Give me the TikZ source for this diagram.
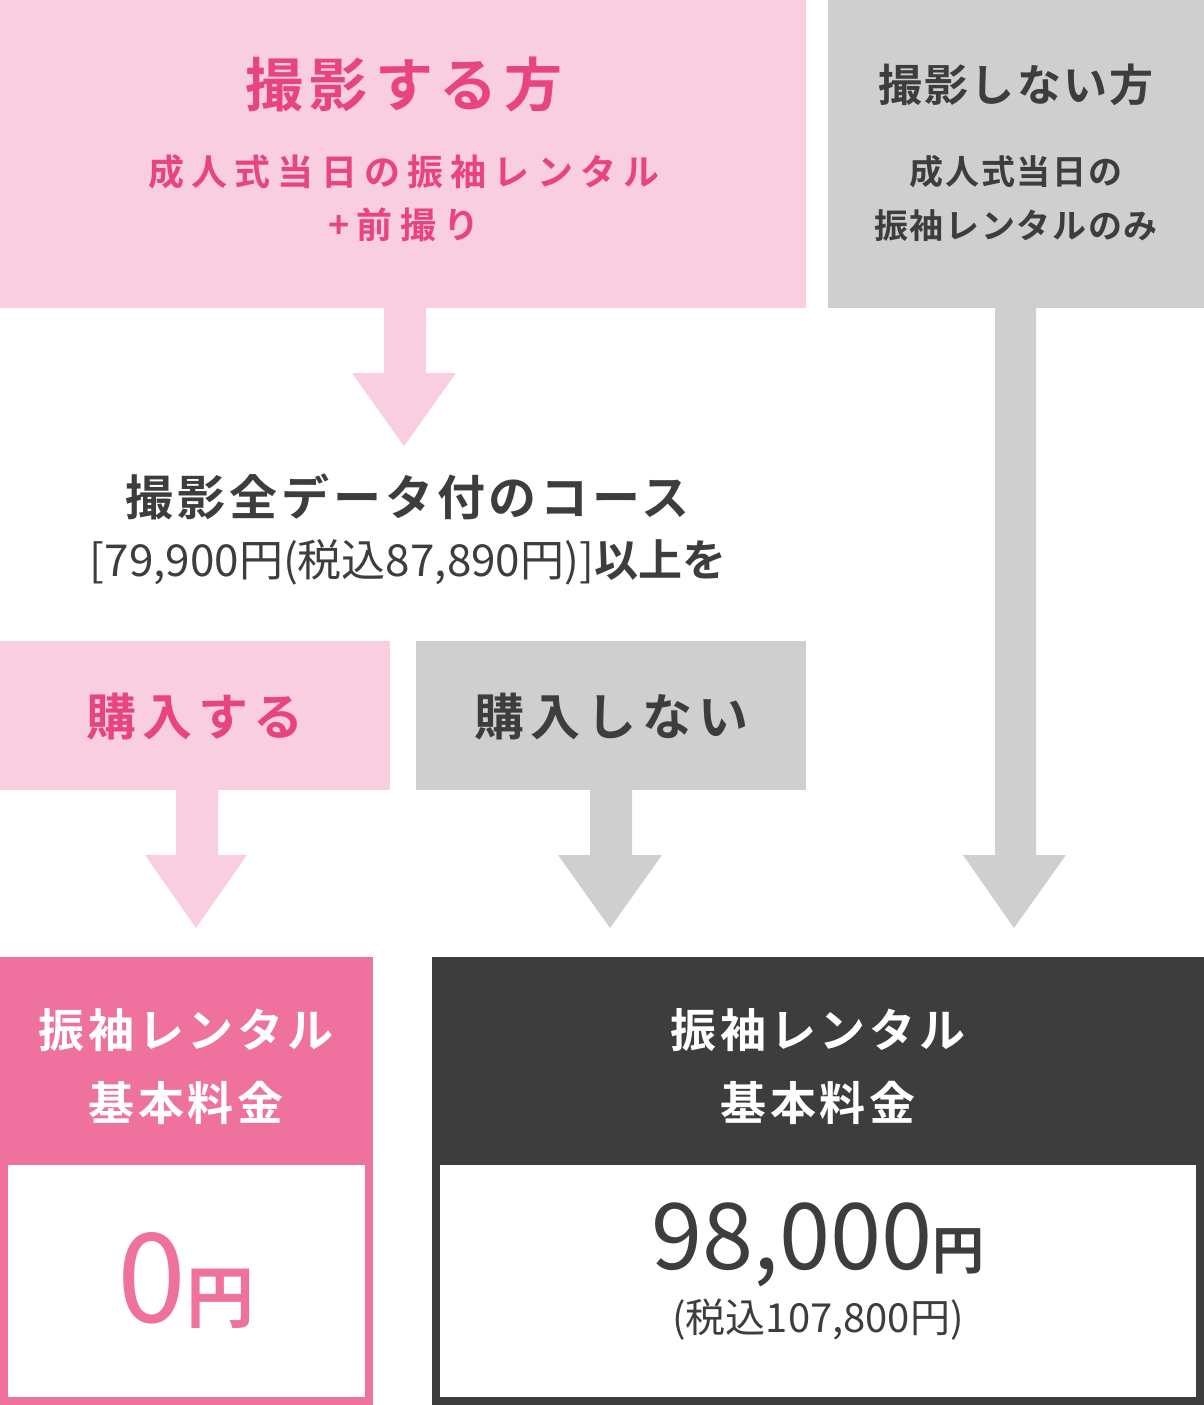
\documentclass[tikz,border=0pt]{standalone}
\usepackage{fontspec}
\setmainfont{Noto Sans CJK JP}[BoldFont={Noto Sans CJK JP Bold}]
\definecolor{palepink}{HTML}{F8CEE0}
\definecolor{deeppink}{HTML}{E8457F}
\definecolor{midpink}{HTML}{EE719E}
\definecolor{palegray}{HTML}{CFCFCF}
\definecolor{darkgray}{HTML}{3D3D3D}
\newcommand{\fs}[1]{\fontsize{#1}{#1}\selectfont}
\newcommand{\lsp}[1]{\addfontfeature{LetterSpace=#1}}
\tikzset{
  txt/.style={inner sep=0pt, font=\bfseries, align=center},
  downarrow/.style={fill=#1, draw=none}
}
\begin{document}
\begin{tikzpicture}[x=0.5pt,y=-0.5pt]
\useasboundingbox (0,0) rectangle (1204,1405);
% top boxes
\fill[palepink] (0,0) rectangle (806,308);
\fill[palegray] (828,0) rectangle (1204,308);
\node[txt, text=deeppink, font=\bfseries\fs{29pt}\lsp{12}] (shoot) at (404,85) {撮影する方};
\node[txt, text=deeppink, font=\bfseries\fs{18pt}\lsp{20}] (shootA) at (404,172) {成人式当日の振袖レンタル};
\node[txt, text=deeppink, font=\bfseries\fs{18pt}\lsp{20}] (shootB) at (404,225) {+前撮り};
\node[txt, text=darkgray, font=\bfseries\fs{22pt}\lsp{5}] (noshoot) at (1016,85) {撮影しない方};
\node[txt, text=darkgray, font=\bfseries\fs{17pt}\lsp{5}] (noshootA) at (1016,172) {成人式当日の};
\node[txt, text=darkgray, font=\bfseries\fs{17pt}\lsp{5}] (noshootB) at (1016,226) {振袖レンタルのみ};
% arrows
\fill[palepink] (384,308) -- (426,308) -- (426,373) -- (456,373) -- (404,446) -- (352,373) -- (384,373) -- cycle;
\fill[palegray] (995,308) -- (1036,308) -- (1036,855) -- (1066,855) -- (1014,928) -- (963,855) -- (995,855) -- cycle;
\fill[palepink] (176,790) -- (218,790) -- (218,855) -- (247,855) -- (196,928) -- (145,855) -- (176,855) -- cycle;
\fill[palegray] (590,790) -- (632,790) -- (632,855) -- (662,855) -- (610,928) -- (558,855) -- (590,855) -- cycle;
% middle text
\node[txt, text=darkgray, font=\bfseries\fs{24pt}\lsp{8}] (course) at (408,497) {撮影全データ付のコース};
\node[txt, text=darkgray, font=\bfseries\fs{22pt}] (price) at (408,562) {{\mdseries [79,900円(税込87,890円)]}以上を};
% choice boxes
\fill[palepink] (0,641) rectangle (390,790);
\fill[palegray] (416,641) rectangle (806,790);
\node[txt, text=deeppink, font=\bfseries\fs{25pt}\lsp{12}] (buy) at (195,717) {購入する};
\node[txt, text=darkgray, font=\bfseries\fs{25pt}\lsp{12}] (nobuy) at (611,717) {購入しない};
% result left
\fill[midpink] (0,957) rectangle (373,1405);
\fill[white] (8,1165) rectangle (365,1397);
\node[txt, text=white, font=\bfseries\fs{23pt}\lsp{8}] (feeL) at (186,1030) {振袖レンタル};
\node[txt, text=white, font=\bfseries\fs{23pt}\lsp{8}] (feeLb) at (186,1103) {基本料金};
\node[txt, text=midpink, font=\mdseries\fs{62pt}] (zero) at (186,1280) {0\bfseries\fs{34pt}円};
% result right
\fill[darkgray] (432,957) rectangle (1204,1405);
\fill[white] (440,1165) rectangle (1196,1397);
\node[txt, text=white, font=\bfseries\fs{23pt}\lsp{8}] (feeR) at (818,1030) {振袖レンタル};
\node[txt, text=white, font=\bfseries\fs{23pt}\lsp{8}] (feeRb) at (818,1103) {基本料金};
\node[txt, text=darkgray, font=\mdseries\fs{46pt}] (amount) at (818,1245) {98,000{\bfseries\fs{26pt}円}};
\node[txt, text=darkgray, font=\mdseries\fs{20pt}] (tax) at (818,1320) {(税込107,800円)};
\end{tikzpicture}
\end{document}
